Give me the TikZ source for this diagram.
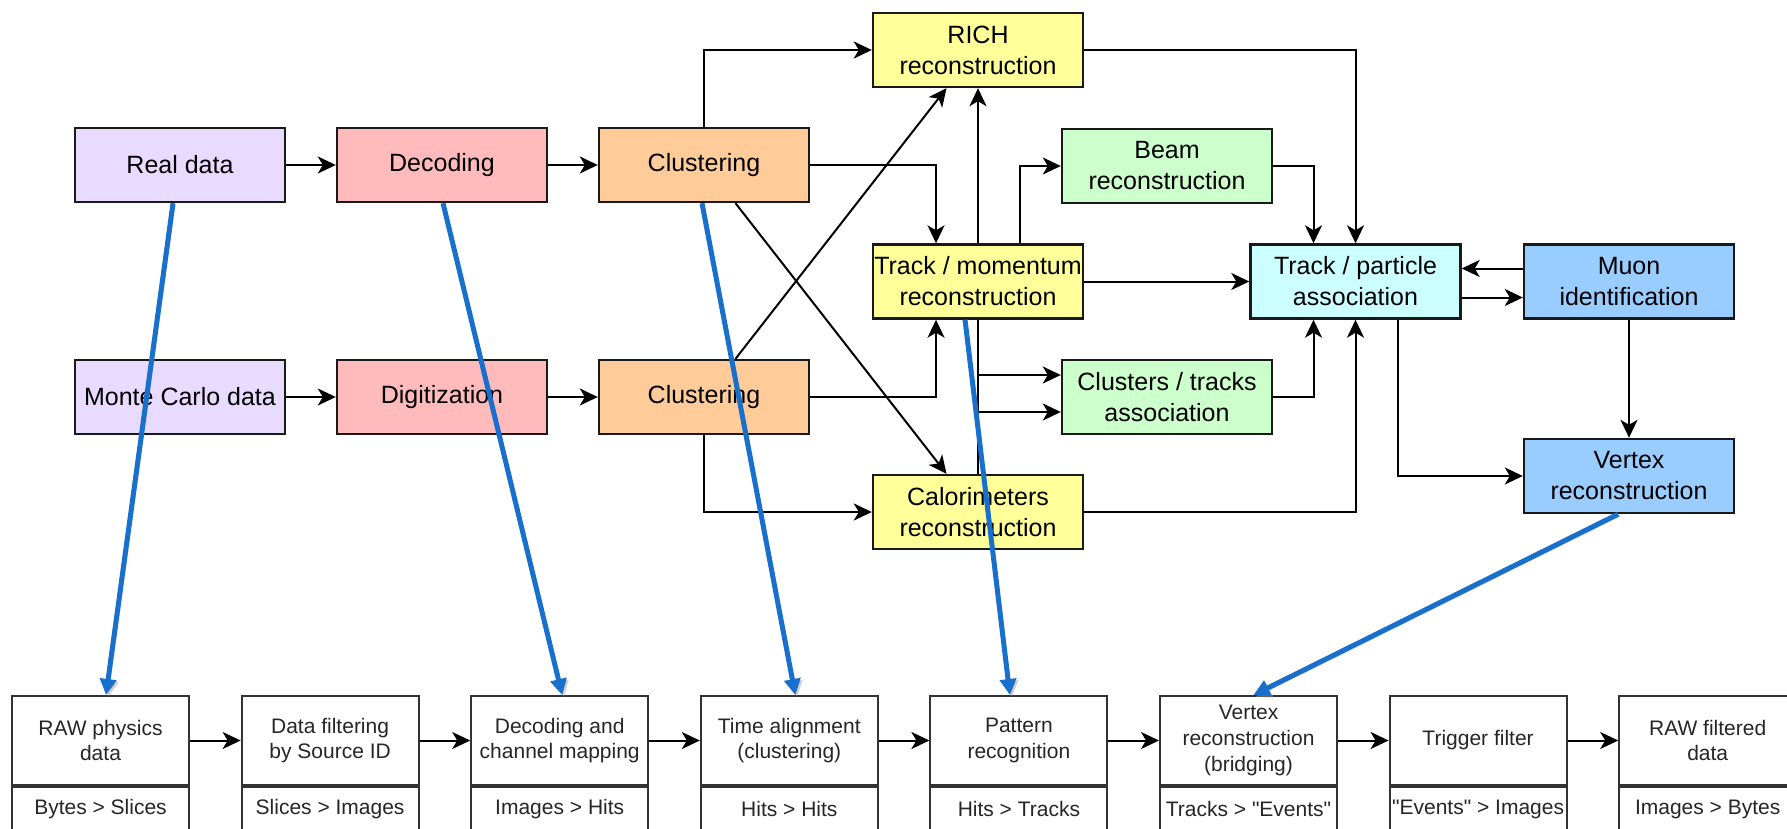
\documentclass[tikz,border=0pt]{standalone}
\usepackage{fontspec}
\setmainfont{Liberation Sans}
\usetikzlibrary{arrows.meta}

\definecolor{datafill}{RGB}{233,218,255}
\definecolor{decfill}{RGB}{255,187,187}
\definecolor{clusfill}{RGB}{255,204,153}
\definecolor{recofill}{RGB}{255,255,153}
\definecolor{greenfill}{RGB}{204,255,204}
\definecolor{cyanfill}{RGB}{204,255,255}
\definecolor{muonfill}{RGB}{153,204,255}
\definecolor{bluelink}{RGB}{24,112,204}

\tikzset{
  box/.style={draw=black!90, line width=1.2pt, minimum width=105pt, minimum height=37pt,
    inner sep=0pt, align=center, font=\fontsize{12.5}{15.5}\selectfont},
  stepbox/.style={draw=black!80, line width=1pt, fill=white, minimum width=88.5pt,
    minimum height=44.5pt, inner sep=0pt, align=center, text=black!85,
    font=\fontsize{10.5}{12.8}\selectfont},
  iobox/.style={stepbox, minimum height=22pt, anchor=north},
  link/.style={draw=black, line width=1pt, -{Stealth[length=9pt,width=8.5pt,inset=2.5pt]}},
  bluearrow/.style={draw=bluelink, line width=2.5pt, -{Triangle[length=8pt,width=8pt]},
    preaction={draw=black!40, opacity=0.45, transform canvas={shift={(1pt,-1pt)}}}}
}

\begin{document}
\begin{tikzpicture}
    [x=0.5pt,y=-0.5pt]
    \useasboundingbox (0,0) rectangle (1787,829);
    \clip (0,0) rectangle (1787,829);
    %input data
    \node[box, fill=datafill] (real) at (180,165) {Real data};
    \node[box, fill=datafill] (mc) at (180,397) {Monte Carlo data};
    \node[box, fill=decfill] (decode) at (442,165) {Decoding};
    \node[box, fill=decfill] (digi) at (442,397) {Digitization};
    \node[box, fill=clusfill] (clus1) at (704,165) {Clustering};
    \node[box, fill=clusfill] (clus2) at (704,397) {Clustering};
    %reconstruction
    \node[box, fill=recofill] (rich) at (978,50) {RICH\\reconstruction};
    \node[box, fill=recofill] (track) at (978,281.5) {Track / momentum\\reconstruction};
    \node[box, fill=recofill] (calo) at (978,512) {Calorimeters\\reconstruction};
    \node[box, fill=greenfill] (beam) at (1167,166) {Beam\\reconstruction};
    \node[box, fill=greenfill] (clt) at (1167,397) {Clusters / tracks\\association};
    \node[box, fill=cyanfill] (tpa) at (1355.5,281.5) {Track / particle\\association};
    \node[box, fill=muonfill] (muon) at (1629,281.5) {Muon\\identification};
    \node[box, fill=muonfill] (vertex) at (1629,476) {Vertex\\reconstruction};
    %connectors
    \draw[link] (real) -- (decode);
    \draw[link] (decode) -- (clus1);
    \draw[link] (mc) -- (digi);
    \draw[link] (digi) -- (clus2);
    \draw[link] (clus1.north) |- (rich.west);
    \draw[link] (clus1.east) -| ([xshift=-21pt]track.north);
    \draw[link] ([xshift=15.75pt]clus1.south) -- ([xshift=-15.75pt]calo.north);
    \draw[link] ([xshift=15.75pt]clus2.north) -- ([xshift=-15.75pt]rich.south);
    \draw[link] (clus2.east) -| ([xshift=-21pt]track.south);
    \draw[link] (clus2.south) |- (calo.west);
    \draw[link] (track.north) -- (rich.south);
    \draw[link] ([xshift=21pt]track.north) |- (beam.west);
    \draw[link] (track.east) -- (tpa.west);
    \draw[link] (track.south) |- ([yshift=-7.5pt]clt.west);
    \draw[link] (calo.north) |- ([yshift=11pt]clt.west);
    \draw[link] (beam.east) -| ([xshift=-21pt]tpa.north);
    \draw[link] (rich.east) -| (tpa.north);
    \draw[link] (clt.east) -| ([xshift=-21pt]tpa.south);
    \draw[link] (calo.east) -| (tpa.south);
    \draw[link] ([yshift=6.5pt]muon.west) -- ([yshift=6.5pt]tpa.east);
    \draw[link] ([yshift=-8pt]tpa.east) -- ([yshift=-8pt]muon.west);
    \draw[link] (muon) -- (vertex);
    \draw[link] ([xshift=21pt]tpa.south) |- (vertex.west);
    %processing steps
    \foreach \txt/\io [count=\i] in {{RAW physics\\data}/{Bytes > Slices},
        {Data filtering\\by Source ID}/{Slices > Images},
        {Decoding and\\channel mapping}/{Images > Hits},
        {Time alignment\\(clustering)}/{Hits > Hits},
        {Pattern\\recognition}/{Hits > Tracks},
        {Vertex\\reconstruction\\(bridging)}/{Tracks > \textquotedbl Events\textquotedbl},
        {Trigger filter}/{\textquotedbl Events\textquotedbl{} > Images},
        {RAW filtered\\data}/{Images > Bytes}}
    {
        \node[stepbox] (s\i) at ({100.5+229.6*(\i-1)},740.5) {\txt};
        \node[iobox] (io\i) at (s\i.south) {\io};
    }
    \foreach \i/\j in {1/2,2/3,3/4,4/5,5/6,6/7,7/8}
        \draw[link] (s\i) -- (s\j);
    %mapping
    \draw[bluearrow] ([xshift=-3.5pt]real.south) -- ([xshift=2.75pt]s1.north);
    \draw[bluearrow] ([xshift=0.5pt]decode.south) -- ([xshift=1.25pt]s3.north);
    \draw[bluearrow] ([xshift=-1pt]clus1.south) -- ([xshift=3pt]s4.north);
    \draw[bluearrow] ([xshift=-6.5pt]track.south) -- ([xshift=-4.5pt]s5.north);
    \draw[bluearrow] ([xshift=-5.5pt]vertex.south) -- ([xshift=2.5pt]s6.north);
\end{tikzpicture}
\end{document}
